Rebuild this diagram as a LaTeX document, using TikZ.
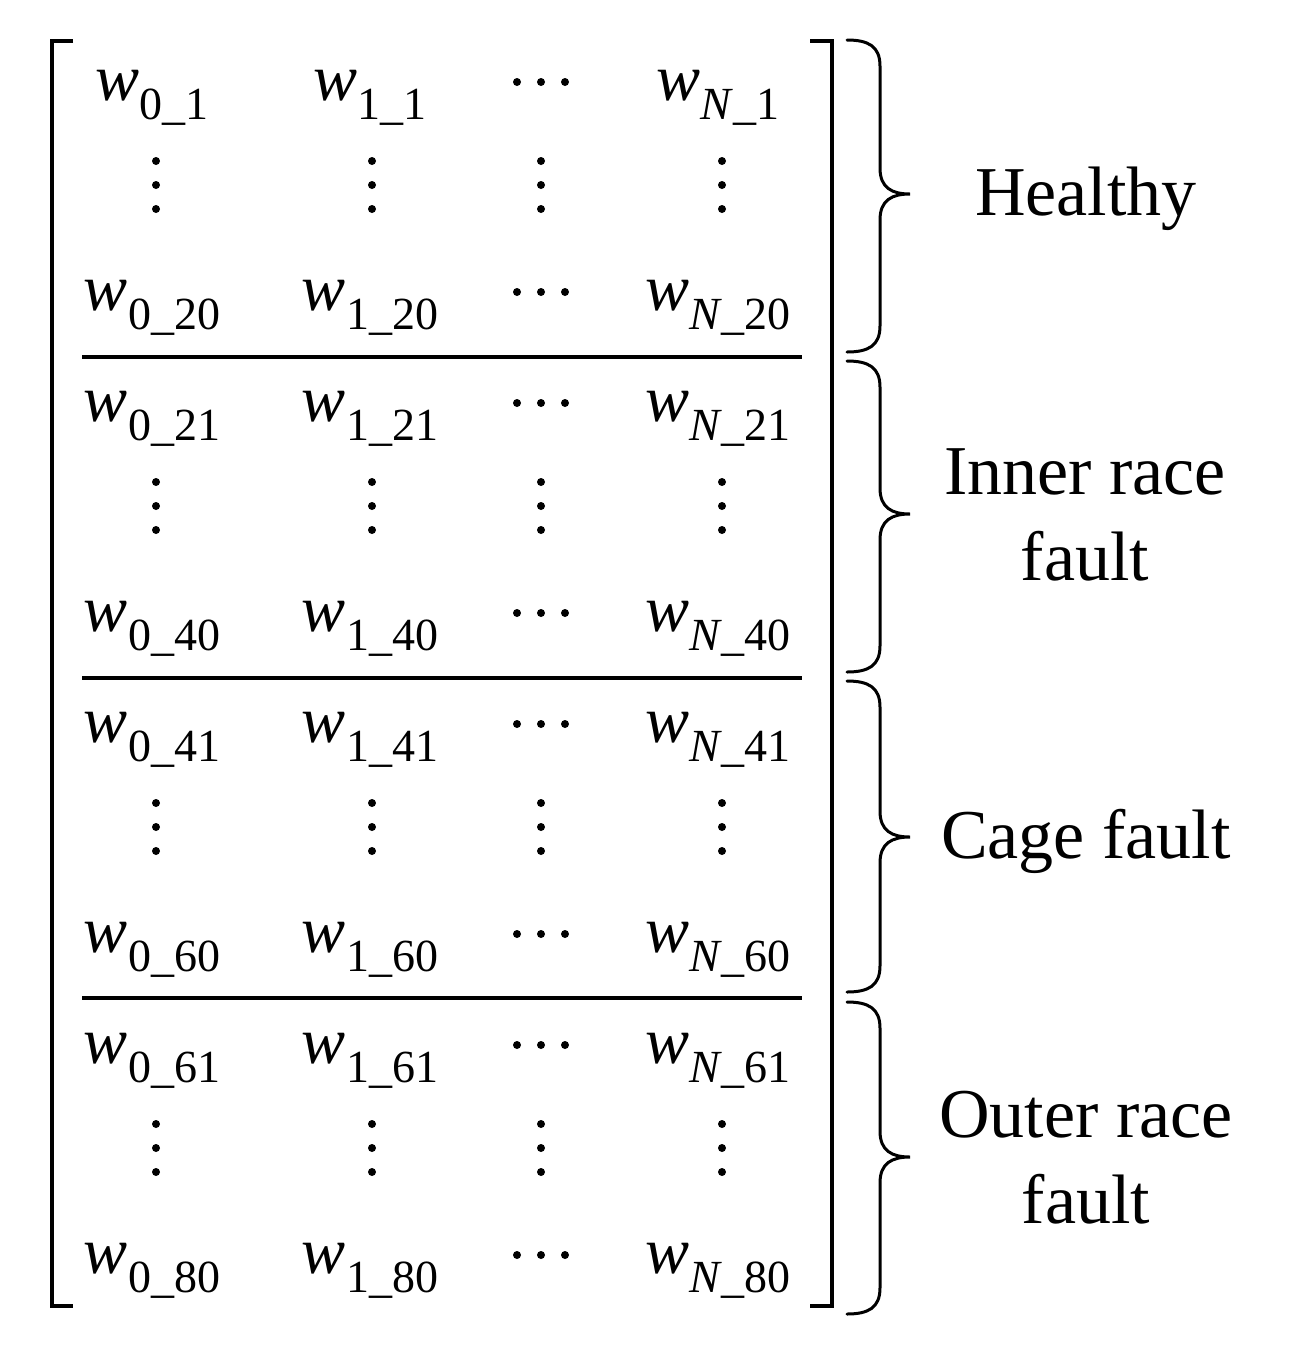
\documentclass[tikz,border=0pt]{standalone}
\usepackage{fontspec}
\setmainfont{Liberation Serif}
\newcommand{\wsub}[2]{\fontsize{33}{40}\selectfont\textit{w}\raisebox{-9.5pt}{\fontsize{23}{28}\selectfont #1\_#2}}
\newcommand{\bracepath}[3]{(847,#1) .. controls (868,#1) and (880,#1+6) .. (880,#1+26) -- (880,#3-26) .. controls (880,#3-6) and (892,#3) .. (910,#3) .. controls (892,#3) and (880,#3+6) .. (880,#3+26) -- (880,#2-26) .. controls (880,#2-6) and (868,#2) .. (847,#2)}
\begin{document}
\begin{tikzpicture}[x=0.5pt,y=-0.5pt]
\tikzset{
  entry/.style={inner sep=0pt, anchor=base},
  lab/.style={inner sep=0pt, font=\fontsize{35}{43}\selectfont, align=center},
  bar/.style={line width=2pt, line join=miter},
  brc/.style={line width=1.5pt, line cap=round},
}
\useasboundingbox (0,0) rectangle (1292,1356);
% matrix brackets
\draw[bar] (73,41) -- (52,41) -- (52,1306) -- (73,1306);
\draw[bar] (810,41) -- (832,41) -- (832,1306) -- (810,1306);
% separators
\draw[bar] (82,357) -- (802,357);
\draw[bar] (82,678) -- (802,678);
\draw[bar] (82,998) -- (802,998);
% entries
\foreach \k/\a/\b in {0/1/20,1/21/40,2/41/60,3/61/80}{
  \pgfmathsetmacro\T{100+321*\k}
  \pgfmathsetmacro\B{310+321*\k}
  \node[entry] (a0\k) at (152,\T) {\wsub{0}{\a}};
  \node[entry] (a1\k) at (370,\T) {\wsub{1}{\a}};
  \node[entry] (aN\k) at (718,\T) {\wsub{\textit{N}}{\a}};
  \node[entry] (b0\k) at (152,\B) {\wsub{0}{\b}};
  \node[entry] (b1\k) at (370,\B) {\wsub{1}{\b}};
  \node[entry] (bN\k) at (718,\B) {\wsub{\textit{N}}{\b}};
  \foreach \x in {517,541,565}{
    \fill (\x,\T-18) circle[radius=4];
    \fill (\x,\B-18) circle[radius=4];
  }
  \foreach \x in {156,372,541,722}{
    \foreach \d in {61,85,109}{
      \fill (\x,\T+\d) circle[radius=4];
    }
  }
}
% braces
\draw[brc] \bracepath{40}{352}{194};
\draw[brc] \bracepath{361}{672}{514};
\draw[brc] \bracepath{681}{992}{837};
\draw[brc] \bracepath{1002}{1314}{1157};
% labels
\node[lab, anchor=base] (healthy) at (1086,215) {Healthy};
\node[lab, anchor=north] (inner) at (1085,448) {Inner race\\fault};
\node[lab, anchor=base] (cage) at (1086,858) {Cage fault};
\node[lab, anchor=north] (outer) at (1086,1091) {Outer race\\fault};
\end{tikzpicture}
\end{document}
